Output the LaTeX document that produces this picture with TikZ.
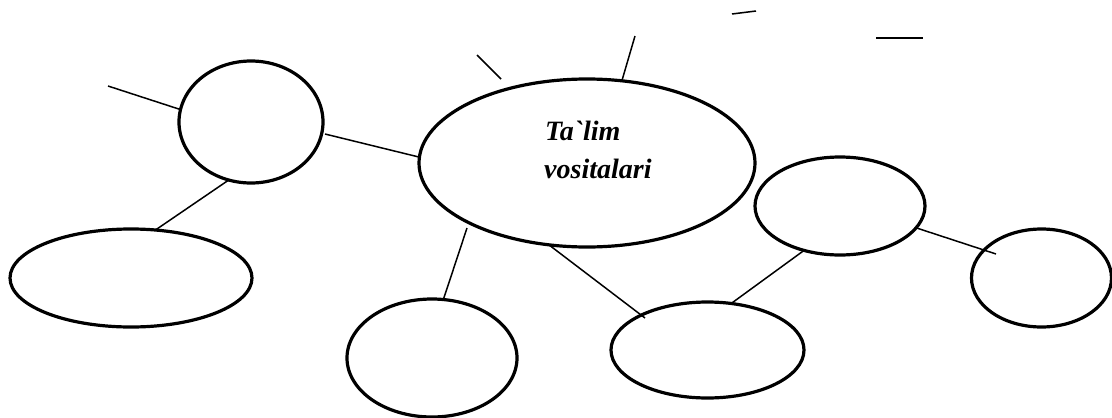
\documentclass[tikz,border=0pt]{standalone}
\usepackage{fontspec}
\setmainfont{Liberation Serif}
\newfontfamily\lblfont{Liberation Serif}
\usetikzlibrary{shapes.geometric}
\tikzset{
  bubble/.style={draw=black, line width=3.2pt, ellipse, inner sep=0pt, outer sep=0pt, fill=none},
  link/.style={draw=black, line width=1.5pt},
  lbl/.style={inner sep=0pt, anchor=base west, font=\lblfont\fontsize{28}{38}\selectfont\bfseries\itshape}
}
\begin{document}
\begin{tikzpicture}[x=1pt,y=-1pt]
\useasboundingbox (0,0) rectangle (1112,418);
% nodes
\node[bubble, minimum width=144pt, minimum height=122pt] (A) at (251,122) {};
\node[bubble, minimum width=336pt, minimum height=168pt] (B) at (587,163) {};
\node[bubble, minimum width=242pt, minimum height=98pt] (C) at (131,278) {};
\node[bubble, minimum width=170pt, minimum height=118pt] (D) at (432,358) {};
\node[bubble, minimum width=170pt, minimum height=98pt] (E) at (840,206) {};
\node[bubble, minimum width=193pt, minimum height=96pt] (F) at (707.5,350) {};
\node[bubble, minimum width=140pt, minimum height=98pt] (G) at (1041.5,278) {};
\node[lbl] (t1) at (545,140) {Ta`lim};
\node[lbl] (t2) at (544,178) {vositalari};
% free coordinates
\coordinate (p1) at (108,86);
\coordinate (q1) at (477,55);
\coordinate (q2) at (501,79);
\coordinate (p2) at (635,36);
\coordinate (r1) at (732,14);
\coordinate (r2) at (756,11);
\coordinate (s1) at (876,38);
\coordinate (s2) at (923,38);
% connectors
\draw[link] (p1) -- (A.170.5);
\draw[link] ([shift={(74,12)}]A.center) -- (B.178.3);
\draw[link] (A.249) -- (C.63);
\draw[link] (q1) -- (q2);
\draw[link] (p2) -- (B.67.6);
\draw[link] (r1) -- (r2);
\draw[link] (s1) -- (s2);
\draw[link] ([shift={(-120,65)}]B.center) -- (D.79.4);
\draw[link] (B.245.7) -- ([shift={(-62.5,-32)}]F.center);
\draw[link] (E.231.9) -- (F.63);
\draw[link] (E.344.1) -- ([shift={(-45.5,-24)}]G.center);
\end{tikzpicture}
\end{document}
